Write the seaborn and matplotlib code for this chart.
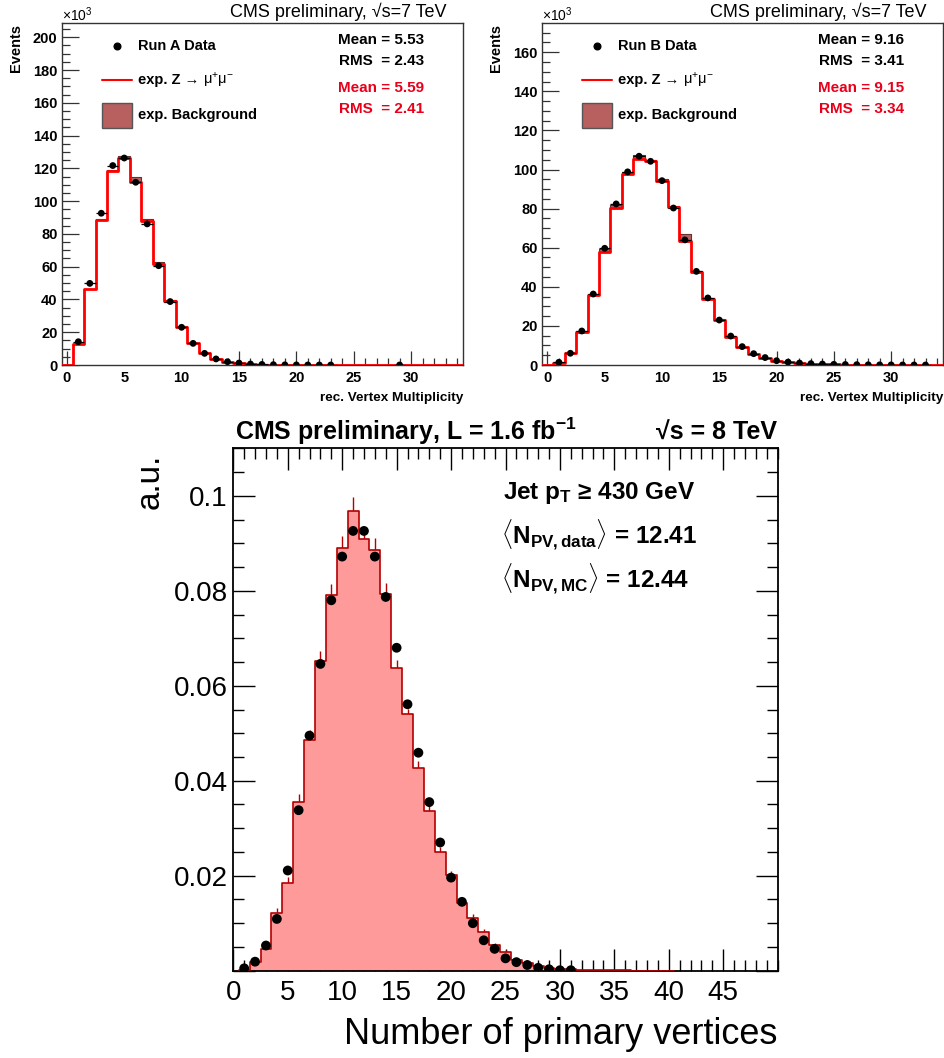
import numpy as np
import pandas as pd
import matplotlib
matplotlib.use("Agg")
import matplotlib.pyplot as plt
import seaborn as sns
from matplotlib.ticker import MultipleLocator
from matplotlib.patches import Rectangle
from matplotlib.lines import Line2D

# ---------------- data ----------------
# top panels: vertex multiplicity bins 0..34, values in units of 10^3 events
bins_top = list(range(0, 35))

runA_z = [0, 12.6, 46.2, 88.5, 118.6, 126.5, 111.9, 87.9, 61.4, 39.1, 23.4, 13.2, 7.1, 3.5, 2.0, 1.0,
          0.6, 0.3, 0.2, 0.1, 0.06, 0.04, 0.02, 0.01, 0.01, 0, 0, 0, 0, 0, 0, 0, 0, 0, 0]
runA_bkg = [0, 0.1, 0.3, 0.4, 0.6, 1.2, 2.6, 1.2, 1.3, 0.5, 0.3, 0.2, 0.1, 0.1, 0, 0,
            0, 0, 0, 0, 0, 0, 0, 0, 0, 0, 0, 0, 0, 0, 0, 0, 0, 0, 0]
runA_data_x = list(range(1, 24)) + [29]
runA_data = [14.2, 49.8, 92.6, 121.7, 126.3, 111.5, 86.1, 60.6, 38.7, 23.0, 13.2, 7.1, 3.7, 2.0, 1.2,
             0.6, 0.35, 0.2, 0.12, 0.07, 0.04, 0.02, 0.01, 0.01]

runB_z = [0, 1.2, 6.3, 16.9, 35.7, 58.0, 80.2, 97.7, 105.6, 104.2, 94.3, 80.7, 63.6, 47.6, 33.8, 23.0,
          14.5, 9.0, 5.5, 3.4, 2.0, 1.4, 0.9, 0.6, 0.4, 0.3, 0.2, 0.15, 0.1, 0.07, 0.05, 0.03, 0.02, 0.01, 0.01]
runB_bkg = [0, 0.05, 0.1, 0.3, 0.5, 1.2, 1.5, 1.0, 1.8, 0.8, 0.6, 0.5, 3.3, 0.5, 0.3, 0.3,
            0.2, 0.1, 0.1, 0, 0, 0, 0, 0, 0, 0, 0, 0, 0, 0, 0, 0, 0, 0, 0]
runB_data_x = list(range(1, 34))
runB_data = [1.4, 6.0, 17.4, 36.3, 59.7, 82.4, 98.8, 106.8, 104.2, 94.3, 80.3, 64.0, 47.9, 34.3, 23.0,
             14.8, 9.4, 5.8, 3.8, 2.2, 1.5, 1.0, 0.7, 0.5, 0.35, 0.25, 0.18, 0.12, 0.08, 0.06, 0.04, 0.03, 0.02]

statsA_data = ["Mean = 5.53", "RMS  = 2.43"]
statsA_mc = ["Mean = 5.59", "RMS  = 2.41"]
statsB_data = ["Mean = 9.16", "RMS  = 3.41"]
statsB_mc = ["Mean = 9.15", "RMS  = 3.34"]

# bottom panel: number of primary vertices, normalised (a.u.)
bins_bot = list(range(1, 41))
mc_bot = [0.0002, 0.0019, 0.0046, 0.0121, 0.0184, 0.0355, 0.0486, 0.0652, 0.0792, 0.0891,
          0.0967, 0.0908, 0.0885, 0.0794, 0.0637, 0.0540, 0.0426, 0.0336, 0.0250, 0.0201,
          0.0142, 0.0112, 0.0081, 0.0054, 0.0039, 0.0023, 0.0016, 0.0010, 0.0006, 0.0004,
          0.0003, 0.0002, 0.0001, 0.0001, 0.00005, 0.00005, 0.00003, 0.00002, 0.00001, 0.00001]
mc_bot_err = [0.0002, 0.0004, 0.0006, 0.0010, 0.0013, 0.0017, 0.0020, 0.0022, 0.0022, 0.0025,
              0.0030, 0.0025, 0.0027, 0.0022, 0.0017, 0.0012, 0.0015, 0.0012, 0.0010, 0.0009,
              0.0008, 0.0007, 0.0006, 0.0005, 0.0004, 0.0003, 0.0003, 0.0002, 0.0002, 0.0001,
              0.0001, 0.0001, 0.0001, 0.0001, 0, 0, 0, 0, 0, 0]
data_bot_x = list(range(1, 32))
data_bot = [0.0005, 0.0019, 0.0053, 0.0109, 0.0211, 0.0338, 0.0495, 0.0646, 0.0780, 0.0872,
            0.0926, 0.0926, 0.0872, 0.0787, 0.0680, 0.0561, 0.0459, 0.0355, 0.0270, 0.0196,
            0.0145, 0.0100, 0.0064, 0.0046, 0.0026, 0.0018, 0.0012, 0.0006, 0.0003, 0.0001, 0.0001]

# ---------------- style ----------------
sns.set_theme(style="ticks")
plt.rcParams['font.family'] = ['Liberation Sans', 'DejaVu Sans']
plt.rcParams['mathtext.fontset'] = 'custom'
plt.rcParams['mathtext.rm'] = 'Liberation Sans'
plt.rcParams['mathtext.it'] = 'Liberation Sans:italic'
plt.rcParams['mathtext.bf'] = 'Liberation Sans:bold'
plt.rcParams['text.color'] = 'black'
plt.rcParams['axes.labelcolor'] = 'black'
plt.rcParams['xtick.color'] = 'black'
plt.rcParams['ytick.color'] = 'black'
plt.rcParams['xtick.labelcolor'] = 'black'
plt.rcParams['ytick.labelcolor'] = 'black'

W, H = 944, 1058
fig = plt.figure(figsize=(W / 100, H / 100), dpi=100, facecolor='white')


def fx(px):
    return px / W


def fy(py):
    return 1 - py / H


def axes_px(l, t, r, b):
    return fig.add_axes([fx(l), fy(b), (r - l) / W, (b - t) / H])


RED = '#ff0000'
BKG = '#b86060'
STAT_RED = '#e8001a'


def draw_top(ax, z, bkg, dx, dy, xlim, ymax, yticks, run_label, s_data, s_mc, off):
    total = [a + b for a, b in zip(z, bkg)]
    sns.histplot(x=bins_top, weights=total, discrete=True, element="step", fill=True,
                 facecolor=BKG, edgecolor='#6a3030', linewidth=0.8, alpha=1, ax=ax, zorder=1)
    sns.histplot(x=bins_top, weights=z, discrete=True, element="step", fill=True,
                 facecolor='white', edgecolor='none', linewidth=0, alpha=1, ax=ax, zorder=2)
    sns.histplot(x=bins_top, weights=z, discrete=True, element="step", fill=False,
                 color=RED, linewidth=2.0, ax=ax, zorder=3)
    ax.errorbar(dx, dy, xerr=0.5, fmt='none', ecolor='black', elinewidth=0.9, zorder=4)
    sns.scatterplot(x=dx, y=dy, color='black', s=24, edgecolor='none', ax=ax, zorder=5)
    ax.set_xlim(*xlim)
    ax.set_ylim(0, ymax)
    ax.set_xlabel('')
    ax.set_ylabel('')
    ax.set_xticks(list(range(0, 35, 5)), [str(v) for v in range(0, 35, 5)],
                  fontweight='bold', fontsize=10.5)
    ax.set_yticks(yticks, [str(v) for v in yticks], fontweight='bold', fontsize=10.5)
    ax.xaxis.set_minor_locator(MultipleLocator(1))
    ax.yaxis.set_minor_locator(MultipleLocator(5))
    ax.tick_params(axis='both', which='both', direction='in', top=False, right=False,
                   color='#333333', width=0.9)
    ax.tick_params(axis='x', which='major', length=10, pad=4)
    ax.tick_params(axis='x', which='minor', length=5)
    ax.tick_params(axis='y', which='major', length=12, pad=3)
    ax.tick_params(axis='y', which='minor', length=6)
    for sp in ax.spines.values():
        sp.set_color('#333333')
        sp.set_linewidth(1.0)
    ax.set_facecolor('white')

    # texts
    fig.text(fx(off + 447), fy(17), "CMS preliminary, √s=7 TeV", ha='right', va='baseline', fontsize=13)
    fig.text(fx(off + 62), fy(20.5), r"×10$^{3}$", ha='left', va='baseline', fontsize=10)
    fig.text(fx(off + 16), fy(23.5), "Events", rotation=90, ha='center', va='top',
             fontsize=10.5, fontweight='bold')
    fig.text(fx(off + 463), fy(398), "rec. Vertex Multiplicity", ha='right', va='center',
             fontsize=9.7, fontweight='bold')
    # legend
    lx0, lx1 = off + 102, off + 132
    fig.add_artist(Line2D([fx(off + 116.7)], [fy(46)], marker='o', color='black', markersize=4.8,
                          linestyle='none', transform=fig.transFigure))
    fig.text(fx(off + 138), fy(46), run_label, ha='left', va='center', fontsize=10.5, fontweight='bold')
    fig.add_artist(Line2D([fx(lx0), fx(lx1)], [fy(80), fy(80)], color=RED, linewidth=1.5,
                          transform=fig.transFigure))
    fig.text(fx(off + 138), fy(80), "exp. Z → ", ha='left', va='center', fontsize=10.5, fontweight='bold')
    fig.text(fx(off + 203), fy(80), r"μ$^{+}$μ$^{-}$", ha='left', va='center', fontsize=10.5)
    fig.add_artist(Rectangle((fx(lx0), fy(128)), (lx1 - lx0) / W, 25 / H, facecolor=BKG,
                             edgecolor='#555555', linewidth=1.0, transform=fig.transFigure))
    fig.text(fx(off + 138), fy(115), "exp. Background", ha='left', va='center',
             fontsize=10.5, fontweight='bold')
    sx = off + 424
    fig.text(fx(sx), fy(40), s_data[0], ha='right', va='center', fontsize=11, fontweight='bold')
    fig.text(fx(sx), fy(61), s_data[1], ha='right', va='center', fontsize=11, fontweight='bold')
    fig.text(fx(sx), fy(88), s_mc[0], ha='right', va='center', fontsize=11, fontweight='bold',
             color=STAT_RED)
    fig.text(fx(sx), fy(109), s_mc[1], ha='right', va='center', fontsize=11, fontweight='bold',
             color=STAT_RED)


axA = axes_px(61.7, 23.3, 463.3, 365)
draw_top(axA, runA_z, runA_bkg, runA_data_x, runA_data, (-0.45, 34.55), 208.5,
         list(range(0, 201, 20)), "Run A Data", statsA_data, statsA_mc, 0)

axB = axes_px(541.7, 23.3, 942.7, 365)
draw_top(axB, runB_z, runB_bkg, runB_data_x, runB_data, (-0.5, 34.5), 174.8,
         list(range(0, 161, 20)), "Run B Data", statsB_data, statsB_mc, 480)

# ---------------- bottom panel ----------------
axC = axes_px(233.3, 448.3, 777.7, 970.7)
axC.errorbar(bins_bot, mc_bot, yerr=mc_bot_err, fmt='none', ecolor='#b40000', elinewidth=1.0, zorder=1)
sns.histplot(x=bins_bot, weights=mc_bot, discrete=True, element="step", fill=True,
             facecolor='#ff9a9a', edgecolor='none', linewidth=0, alpha=1, ax=axC, zorder=2)
sns.histplot(x=bins_bot, weights=mc_bot, discrete=True, element="step", fill=False,
             color='#b40000', linewidth=1.2, ax=axC, zorder=3)
sns.scatterplot(x=data_bot_x, y=data_bot, color='black', s=50, edgecolor='none', ax=axC, zorder=5)
axC.set_xlim(0, 50)
axC.set_ylim(0, 0.11)
axC.set_xlabel('')
axC.set_ylabel('')
axC.set_xticks(list(range(0, 50, 5)), [str(v) for v in range(0, 50, 5)], fontsize=20)
yt = [0.0, 0.02, 0.04, 0.06, 0.08, 0.1]
axC.set_yticks(yt, ['', '0.02', '0.04', '0.06', '0.08', '0.1'], fontsize=20)
axC.xaxis.set_minor_locator(MultipleLocator(1))
axC.yaxis.set_minor_locator(MultipleLocator(0.005))
axC.tick_params(axis='both', which='both', direction='in', top=True, right=True, color='black', width=1.0)
axC.tick_params(axis='both', which='major', length=16)
axC.tick_params(axis='both', which='minor', length=8)
axC.tick_params(axis='x', which='major', pad=7)
axC.tick_params(axis='y', which='major', pad=4)
for sp in axC.spines.values():
    sp.set_color('black')
    sp.set_linewidth(1.3)
axC.set_facecolor('white')

fig.text(fx(235), fy(440), r"CMS preliminary, L = 1.6 fb$^{\mathbf{-1}}$", ha='left', va='baseline',
         fontsize=18, fontweight='bold')
fig.text(fx(777), fy(440), "√s = 8 TeV", ha='right', va='baseline', fontsize=18, fontweight='bold')
fig.text(fx(503), fy(499), r"Jet p$_{\mathbf{T}}$ ≥ 430 GeV", ha='left', va='baseline',
         fontsize=17.5, fontweight='bold')
fig.text(fx(501), fy(544), r"$\langle\mathbf{N}_{\mathbf{PV,data}}\rangle$ = 12.41", ha='left',
         va='baseline', fontsize=17.5, fontweight='bold')
fig.text(fx(501), fy(588), r"$\langle\mathbf{N}_{\mathbf{PV,MC}}\rangle$ = 12.44", ha='left',
         va='baseline', fontsize=17.5, fontweight='bold')
fig.text(fx(150), fy(454), "a.u.", rotation=90, ha='center', va='top', fontsize=24)
fig.text(fx(777), fy(1035), "Number of primary vertices", ha='right', va='center', fontsize=26)

fig.savefig("out.png", dpi=100, facecolor='white')
